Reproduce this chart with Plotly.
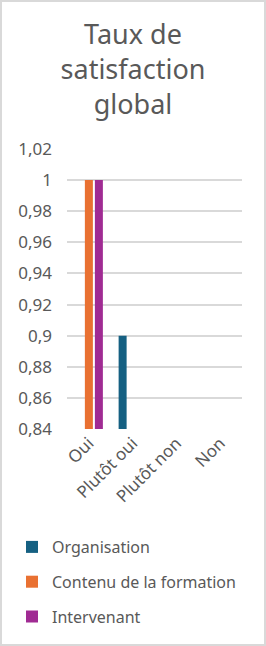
import plotly.graph_objects as go

categories = ["Oui", "Plutôt oui", "Plutôt non", "Non"]
organisation = [0.1, 0.9, 0, 0]
contenu = [1, 0, 0, 0]
intervenant = [1, 0, 0, 0]
series_names = ["Organisation", "Contenu de la formation", "Intervenant"]
colors = ["#156082", "#E97132", "#A02B93"]

W, H = 266, 646
L, R, T, B = 67, 24, 149, 217
pw, ph = W - L - R, H - T - B

FONT = "Noto Sans"
GREY = "#595959"

fig = go.Figure()
for name, vals, col in zip(series_names, [organisation, contenu, intervenant], colors):
    fig.add_trace(go.Bar(x=categories, y=vals, name=name, marker=dict(color=col, line=dict(width=0)),
                         legendgroup=name))

fig.update_layout(
    width=W, height=H,
    margin=dict(l=L, r=R, t=T, b=B, autoexpand=False),
    paper_bgcolor="white", plot_bgcolor="white",
    separators=", ",
    font=dict(family=FONT, color=GREY, size=17),
    title=dict(text="Taux de<br>satisfaction<br>global", x=0.5, xref="container", xanchor="center",
               y=1 - 44 / H, yref="container", yanchor="middle",
               font=dict(family=FONT, size=27, color=GREY)),
    barmode="group", bargap=0.314, bargroupgap=0.2,
    showlegend=True,
    legend=dict(orientation="v", x=(12 - L) / pw, xanchor="left", y=(H - B - 530) / ph, yanchor="top",
                font=dict(family=FONT, size=16, color=GREY), tracegroupgap=11,
                traceorder="grouped", bgcolor="rgba(0,0,0,0)"),
    xaxis=dict(tickangle=-45, showgrid=False, showline=False, ticks="", tickfont=dict(size=17, color=GREY)),
    yaxis=dict(range=[0.84, 1.02], dtick=0.02, tick0=0.84, showgrid=True, gridcolor="#d9d9d9", gridwidth=1.5,
               zeroline=False, showline=False, ticks="", ticklabelstandoff=14,
               tickfont=dict(size=17, color=GREY)),
    shapes=[dict(type="rect", xref="paper", yref="paper",
                 x0=(1 - L) / pw, x1=1 + (R - 1) / pw, y0=-(B - 1) / ph, y1=1 + (T - 1) / ph,
                 line=dict(color="#d9d9d9", width=2), fillcolor="rgba(0,0,0,0)", layer="below")],
)

fig.write_html("out.html")
